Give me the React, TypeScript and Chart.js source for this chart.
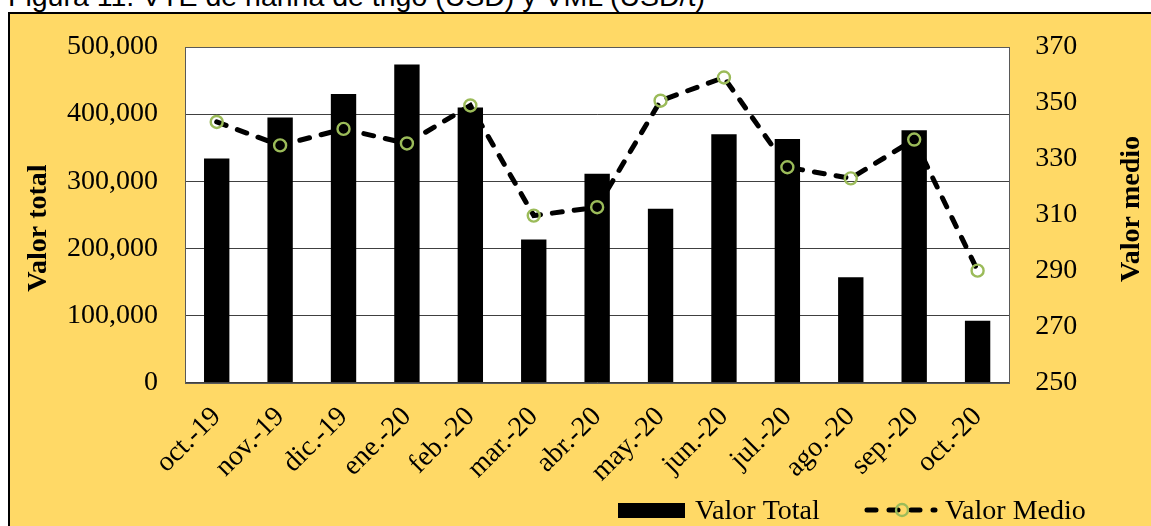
import React, { useEffect, useRef } from 'react';
import { Chart, registerables } from 'chart.js';

Chart.register(...registerables);

const categories = ['oct.-19', 'nov.-19', 'dic.-19', 'ene.-20', 'feb.-20', 'mar.-20', 'abr.-20', 'may.-20', 'jun.-20', 'jul.-20', 'ago.-20', 'sep.-20', 'oct.-20'];
const valorTotal = [334000, 395000, 430000, 474000, 410000, 213000, 311000, 259000, 370000, 363000, 157000, 376000, 92000];
const valorMedio = [343.2, 334.8, 340.7, 335.5, 349.1, 309.7, 312.7, 350.8, 359.1, 327.0, 323.0, 336.9, 290.0];
const leftTicks = [0, 100000, 200000, 300000, 400000, 500000];
const rightTicks = [250, 270, 290, 310, 330, 350, 370];
const seriesNames = ['Valor Total', 'Valor Medio'];
const axisTitles = ['Valor total', 'Valor medio'];
const titleText = 'Figura 11. VTE de harina de trigo (USD) y VML (USD/t)';

const SERIF = '"Liberation Serif", "Times New Roman", serif';
const GREEN = '#9BBB59';

const decorPlugin = {
  id: 'decor',
  beforeDraw(chart: any) {
    const { ctx, chartArea: a } = chart;
    ctx.save();
    ctx.fillStyle = '#ffffff';
    ctx.fillRect(a.left, a.top, a.right - a.left, a.bottom - a.top);
    ctx.restore();
  },
  beforeDatasetsDraw(chart: any) {
    const { ctx, chartArea: a } = chart;
    ctx.save();
    ctx.strokeStyle = '#595959';
    ctx.lineWidth = 1;
    ctx.strokeRect(Math.round(a.left) + 0.5, Math.round(a.top) + 0.5, Math.round(a.right - a.left), Math.round(a.bottom - a.top));
    ctx.restore();
  },
  afterDraw(chart: any) {
    const { ctx } = chart;
    ctx.save();
    ctx.fillStyle = '#000';
    ctx.font = 'bold 28px ' + SERIF;
    ctx.textAlign = 'center';
    ctx.textBaseline = 'middle';
    ctx.translate(29, 214);
    ctx.rotate(-Math.PI / 2);
    ctx.fillText(axisTitles[0], 0, 0);
    ctx.restore();

    ctx.save();
    ctx.fillStyle = '#000';
    ctx.font = 'bold 28px ' + SERIF;
    ctx.textAlign = 'center';
    ctx.textBaseline = 'middle';
    ctx.translate(1121.5, 195);
    ctx.rotate(-Math.PI / 2);
    ctx.fillText(axisTitles[1], 0, 0);
    ctx.restore();

    // legend
    ctx.save();
    ctx.fillStyle = '#000';
    ctx.fillRect(608, 489, 67, 15);
    ctx.font = '28px ' + SERIF;
    ctx.textAlign = 'left';
    ctx.textBaseline = 'alphabetic';
    ctx.fillText(seriesNames[0], 685, 505);

    ctx.strokeStyle = '#000';
    ctx.lineWidth = 5;
    ctx.lineCap = 'round';
    ctx.setLineDash([9, 13]);
    ctx.beginPath();
    ctx.moveTo(857, 496);
    ctx.lineTo(925, 496);
    ctx.stroke();
    ctx.setLineDash([]);
    ctx.strokeStyle = GREEN;
    ctx.lineWidth = 2.4;
    ctx.beginPath();
    ctx.arc(892, 496, 6, 0, Math.PI * 2);
    ctx.stroke();
    ctx.fillStyle = '#000';
    ctx.fillText(seriesNames[1], 935, 505);
    ctx.restore();
  },
};

const fixVertical = (w: number) => (s: any) => {
  s.width = w;
  s.paddingTop = 0;
  s.paddingBottom = 0;
};

export default function App() {
  const canvasRef = useRef<HTMLCanvasElement | null>(null);

  useEffect(() => {
    const canvas = canvasRef.current;
    if (!canvas) return;
    const chart = new Chart(canvas, {
      data: {
        labels: categories,
        datasets: [
          {
            type: 'line',
            label: seriesNames[1],
            data: valorMedio,
            yAxisID: 'y1',
            order: 0,
            borderColor: '#000',
            borderWidth: 5,
            borderDash: [10, 12],
            borderCapStyle: 'round',
            tension: 0,
            fill: false,
            pointRadius: 6,
            pointBorderWidth: 2.4,
            pointBorderColor: GREEN,
            pointBackgroundColor: 'rgba(0,0,0,0)',
          },
          {
            type: 'bar',
            label: seriesNames[0],
            data: valorTotal,
            yAxisID: 'y',
            order: 1,
            backgroundColor: '#000',
            borderWidth: 0,
            categoryPercentage: 1,
            barPercentage: 0.4,
          },
        ],
      } as any,
      options: {
        responsive: false,
        animation: false,
        devicePixelRatio: 1,
        layout: { padding: { top: 33, left: 0, right: 0, bottom: 0 } },
        plugins: {
          legend: { display: false },
          tooltip: { enabled: false },
          title: { display: false },
        },
        scales: {
          x: {
            offset: true,
            grid: { display: false, drawTicks: false },
            border: { display: false },
            ticks: {
              color: '#000',
              font: { family: SERIF, size: 28 },
              minRotation: 45,
              maxRotation: 45,
              padding: 18,
              autoSkip: false,
            },
            afterFit: (s: any) => { s.height = 143.5; },
          },
          y: {
            position: 'left',
            min: leftTicks[0],
            max: leftTicks[leftTicks.length - 1],
            grid: { color: '#404040', lineWidth: 1, drawTicks: false },
            border: { display: false },
            ticks: {
              stepSize: leftTicks[1] - leftTicks[0],
              color: '#000',
              font: { family: SERIF, size: 28 },
              padding: 27,
              callback: (v: any) => Number(v).toLocaleString('en-US'),
            },
            afterFit: fixVertical(175),
          },
          y1: {
            position: 'right',
            min: rightTicks[0],
            max: rightTicks[rightTicks.length - 1],
            grid: { display: false, drawTicks: false },
            border: { display: false },
            ticks: {
              stepSize: rightTicks[1] - rightTicks[0],
              color: '#000',
              font: { family: SERIF, size: 28 },
              padding: 26,
            },
            afterFit: fixVertical(141.7),
          },
        },
      } as any,
      plugins: [decorPlugin],
    });
    return () => chart.destroy();
  }, []);

  return (
    <div style={{ position: 'absolute', left: 0, top: 0, width: 1151, height: 526, overflow: 'hidden', background: '#fff' }}>
      <div
        style={{
          position: 'absolute',
          left: 8,
          top: -17.7,
          fontFamily: '"Liberation Sans", Arial, sans-serif',
          fontSize: 28.5,
          lineHeight: '28px',
          whiteSpace: 'nowrap',
          color: '#000',
        }}
      >
        {titleText}
      </div>
      <div
        style={{
          position: 'absolute',
          left: 8,
          top: 12,
          width: 1160,
          height: 530,
          border: '2px solid #000',
          background: '#FFD966',
        }}
      >
        <canvas ref={canvasRef} width={1141} height={512} style={{ display: 'block', width: 1141, height: 512 }} />
      </div>
    </div>
  );
}
